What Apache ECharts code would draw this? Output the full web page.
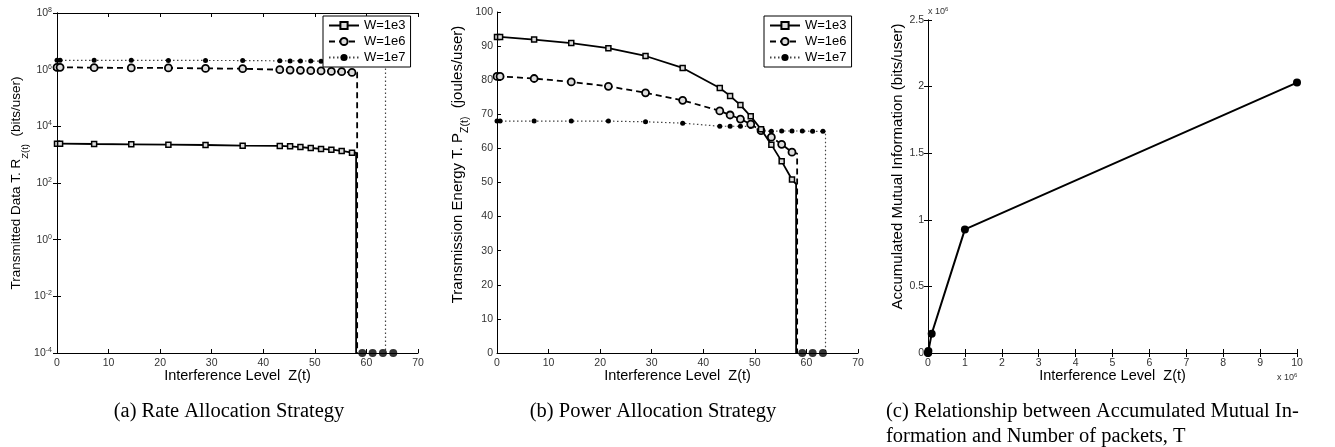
<!DOCTYPE html>
<html>
<head>
<meta charset="utf-8">
<script src="https://cdn.jsdelivr.net/npm/echarts@6/dist/echarts.min.js"></script>
<style>html,body{margin:0;padding:0;background:#fff}#main{width:1335px;height:447px}</style>
</head>
<body>
<div id="main"></div>
<script>
// interference levels where markers sit
var zShort = [0, 0.6, 7.2, 14.4, 21.6, 28.8, 36, 43.2, 45.2, 47.2, 49.2, 51.2, 53.2, 55.2, 57.2];
var zLong = [0, 0.6, 7.2, 14.4, 21.6, 28.8, 36, 43.2, 45.2, 47.2, 49.2, 51.2, 53.2, 55.2, 57.2, 59.2, 61.2, 63.2];
var cutZ = [58.0, 58.2, 63.7];

// (a) transmitted data
var rate1e3 = [2450, 2450, 2380, 2320, 2260, 2190, 2080, 2030, 1970, 1860, 1720, 1590, 1500, 1350, 1180];
var rate1e6 = [1.21e6, 1.21e6, 1.18e6, 1.15e6, 1.15e6, 1.11e6, 1.08e6, 1.0e6, 0.97e6, 0.95e6, 0.92e6, 0.9e6, 0.87e6, 0.85e6, 0.8e6];
var rate1e7 = [2.13e6, 2.13e6, 2.13e6, 2.13e6, 2.12e6, 2.11e6, 2.1e6, 2.05e6, 2.04e6, 2.03e6, 2.02e6, 2.0e6, 2.0e6, 2.0e6, 2.0e6, 2.0e6, 2.0e6, 2.0e6];
var rateFloor = 1e-4;
var zerosA = [59.2, 61.2, 63.2, 65.2];

// (b) transmission energy
var energy1e3 = [92.7, 92.7, 91.9, 90.9, 89.4, 87.1, 83.6, 77.7, 75.4, 72.7, 69.4, 65.6, 61.1, 56.2, 50.9];
var energy1e6 = [81.1, 81.1, 80.5, 79.5, 78.2, 76.3, 74.1, 71.0, 69.8, 68.6, 67.1, 65.2, 63.3, 61.2, 58.9];
var energy1e7 = [68.0, 68.0, 68.0, 68.0, 68.0, 67.8, 67.4, 66.5, 66.5, 66.5, 66.4, 65.2, 65.0, 65.1, 65.1, 65.1, 65.0, 65.0];
var energyTail = [49.5, 58.5, 65.0];
var zerosB = [59.2, 61.2, 63.2];

// (c) accumulated mutual information
var cumZ = [0, 1e3, 1e4, 1e5, 1e6, 1e7];
var cumInfo = [0, 1.5e3, 1.45e4, 1.45e5, 9.28e5, 2.03e6];

var names = ['W=1e3', 'W=1e6', 'W=1e7'];
var font = 'Liberation Sans';
var titleSize = 14.5;

function build(z, v, cut, tail, floor) {
  var d = z.map(function (x, i) { return [x, v[i]]; });
  d.push({ value: [cut, tail], symbol: 'none' });
  d.push({ value: [cut, floor], symbol: 'none' });
  return d;
}

var styles = [
  { symbol: 'rect', symbolSize: 5, itemStyle: { color: '#ddd', borderColor: '#000', borderWidth: 1.5 }, lineStyle: { color: '#000', width: 1.8, type: 'solid' } },
  { symbol: 'circle', symbolSize: 7, itemStyle: { color: '#ddd', borderColor: '#000', borderWidth: 1.8 }, lineStyle: { color: '#000', width: 1.8, type: [6, 4] } },
  { symbol: 'circle', symbolSize: 5, itemStyle: { color: '#000', borderWidth: 0 }, lineStyle: { color: '#444', width: 1.2, type: [1.5, 2.5] } }
];

function lineSeries(k, xi, yi, data) {
  var s = styles[k];
  return {
    name: names[k], type: 'line', xAxisIndex: xi, yAxisIndex: yi, data: data,
    symbol: s.symbol, symbolSize: s.symbolSize, itemStyle: s.itemStyle, lineStyle: s.lineStyle,
    showAllSymbol: true, animation: false, z: 3 - k
  };
}

var supRich = {
  sup: { fontSize: 7, fontFamily: font, color: '#333', verticalAlign: 'top', padding: [0, 0, 6, 0] }
};
function subRich(size) {
  return {
    b: { fontSize: size, fontFamily: font, color: '#000', verticalAlign: 'top', lineHeight: 21 },
    sub: { fontSize: size * 0.7, fontFamily: font, color: '#000', verticalAlign: 'bottom', lineHeight: 21 }
  };
}

function baseX(gi, min, max, interval, fmt, name) {
  return {
    type: 'value', gridIndex: gi, min: min, max: max, interval: interval, position: 'bottom',
    axisLine: { lineStyle: { color: '#000', width: 1 } },
    axisTick: { inside: true, length: 4, lineStyle: { color: '#000' } },
    axisLabel: { fontFamily: font, fontSize: 10.5, color: '#333', margin: 5, formatter: fmt },
    splitLine: { show: false },
    name: name, nameLocation: 'middle', nameGap: 15, nameMoveOverlap: false,
    nameTextStyle: { fontFamily: font, fontSize: titleSize, color: '#000' }
  };
}
function mirrorAxis(gi, type, pos, min, max, interval) {
  return {
    type: type, gridIndex: gi, min: min, max: max, interval: interval, position: pos,
    axisLine: { lineStyle: { color: '#000', width: 1 } },
    axisTick: { inside: true, length: 4, lineStyle: { color: '#000' } },
    axisLabel: { show: false }, splitLine: { show: false }
  };
}

var legendBase = {
  data: names, orient: 'vertical', top: 16, itemWidth: 30, itemHeight: 9, itemGap: 3,
  padding: [3, 5, 3, 5], borderColor: '#000', borderWidth: 1, backgroundColor: '#fff',
  textStyle: { fontFamily: font, fontSize: 13, color: '#000' }, selectedMode: false
};

var capFont = '20.5px "Liberation Serif"';
var supText = { sup: { fontSize: 6, verticalAlign: 'top', padding: [0, 0, 5, 0] } };

var option = {
  animation: false,
  backgroundColor: '#fff',
  grid: [
    { left: 57, top: 13, width: 361, height: 340 },
    { left: 497, top: 12, width: 361, height: 341 },
    { left: 928, top: 20, width: 369, height: 333 }
  ],
  legend: [
    Object.assign({}, legendBase, { left: 323 }),
    Object.assign({}, legendBase, { left: 764 })
  ],
  xAxis: [
    baseX(0, 0, 70, 10, null, 'Interference Level  Z(t)'),
    mirrorAxis(0, 'value', 'top', 0, 70, 10),
    baseX(1, 0, 70, 10, null, 'Interference Level  Z(t)'),
    baseX(2, 0, 1e7, 1e6, function (v) { return Math.round(v / 1e6); }, 'Interference Level  Z(t)'),
    mirrorAxis(2, 'value', 'top', 0, 1e7, 1e6)
  ],
  yAxis: [
    {
      type: 'log', gridIndex: 0, min: 1e-4, max: 1e8, interval: 2, logBase: 10,
      axisLine: { lineStyle: { color: '#000' } },
      axisTick: { inside: true, length: 4, lineStyle: { color: '#000' } },
      axisLabel: {
        fontFamily: font, fontSize: 10.5, color: '#333', margin: 5,
        formatter: function (v) { return '10{sup|' + Math.round(Math.log10(v)) + '}'; },
        rich: supRich
      },
      splitLine: { show: false }, minorTick: { show: false },
      name: '{b|Transmitted Data T. R}{sub|Z(t)}{b|  (bits/user)}', nameLocation: 'middle', nameGap: 25, nameRotate: 90,
      nameTextStyle: { fontFamily: font, fontSize: 13.5, color: '#000', rich: subRich(13.5) }
    },
    mirrorAxis(0, 'log', 'right', 1e-4, 1e8, 2),
    {
      type: 'value', gridIndex: 1, min: 0, max: 100, interval: 10,
      axisLine: { lineStyle: { color: '#000' } },
      axisTick: { inside: true, length: 4, lineStyle: { color: '#000' } },
      axisLabel: { fontFamily: font, fontSize: 10.5, color: '#333', margin: 4 },
      splitLine: { show: false },
      name: '{b|Transmission Energy T. P}{sub|Z(t)}{b|  (joules/user)}', nameLocation: 'middle', nameGap: 26, nameRotate: 90,
      nameTextStyle: { fontFamily: font, fontSize: 15, color: '#000', rich: subRich(15), padding: [0, 0, 0, 36] }
    },
    {
      type: 'value', gridIndex: 2, min: 0, max: 2.5e6, interval: 5e5,
      axisLine: { lineStyle: { color: '#000' } },
      axisTick: { inside: true, length: 4, lineStyle: { color: '#000' } },
      axisLabel: { fontFamily: font, fontSize: 10.5, color: '#333', margin: 4, formatter: function (v) { return +(v / 1e6).toFixed(1); } },
      splitLine: { show: false },
      name: 'Accumulated Mutual Information (bits/user)', nameLocation: 'middle', nameGap: 20, nameRotate: 90,
      nameTextStyle: { fontFamily: font, fontSize: 15, color: '#000', padding: [0, 0, 0, 40] }
    },
    mirrorAxis(2, 'value', 'right', 0, 2.5e6, 5e5)
  ],
  series: [
    lineSeries(0, 0, 0, build(zShort, rate1e3, cutZ[0], rate1e3[rate1e3.length - 1], rateFloor)),
    lineSeries(1, 0, 0, build(zShort, rate1e6, cutZ[1], rate1e6[rate1e6.length - 1], rateFloor)),
    lineSeries(2, 0, 0, build(zLong, rate1e7, cutZ[2], rate1e7[rate1e7.length - 1], rateFloor)),
    {
      type: 'scatter', xAxisIndex: 0, yAxisIndex: 0, symbolSize: 8, itemStyle: { color: '#000' },
      data: zerosA.map(function (x) { return [x, rateFloor]; }), z: 5, clip: false
    },
    lineSeries(0, 2, 2, build(zShort, energy1e3, cutZ[0], energyTail[0], 0)),
    lineSeries(1, 2, 2, build(zShort, energy1e6, cutZ[1], energyTail[1], 0)),
    lineSeries(2, 2, 2, build(zLong, energy1e7, cutZ[2], energyTail[2], 0)),
    {
      type: 'scatter', xAxisIndex: 2, yAxisIndex: 2, symbolSize: 8, itemStyle: { color: '#000' },
      data: zerosB.map(function (x) { return [x, 0]; }), z: 5, clip: false
    },
    {
      type: 'line', xAxisIndex: 3, yAxisIndex: 3, symbol: 'circle', symbolSize: 8, showAllSymbol: true,
      itemStyle: { color: '#000' }, lineStyle: { color: '#000', width: 2 },
      data: cumZ.map(function (x, i) { return [x, cumInfo[i]]; }), clip: false
    }
  ],
  graphic: [
    { type: 'text', left: 928, top: 6, style: { text: 'x 10{sup|6}', font: '9px "Liberation Sans"', fill: '#333', rich: supText } },
    { type: 'text', left: 1277, top: 372, style: { text: 'x 10{sup|6}', font: '9px "Liberation Sans"', fill: '#333', rich: supText } },
    { type: 'text', x: 229, y: 412, style: { text: '(a) Rate Allocation Strategy', font: capFont, fill: '#000', align: 'center', verticalAlign: 'middle' } },
    { type: 'text', x: 653, y: 412, style: { text: '(b) Power Allocation Strategy', font: capFont, fill: '#000', align: 'center', verticalAlign: 'middle' } },
    { type: 'text', x: 886, y: 412, style: { text: '(c) Relationship between Accumulated Mutual In-', font: capFont, fill: '#000', align: 'left', verticalAlign: 'middle' } },
    { type: 'text', x: 886, y: 437, style: { text: 'formation and Number of packets, T', font: capFont, fill: '#000', align: 'left', verticalAlign: 'middle' } }
  ]
};

var chart = echarts.init(document.getElementById('main'));
chart.setOption(option);
</script>
</body>
</html>
